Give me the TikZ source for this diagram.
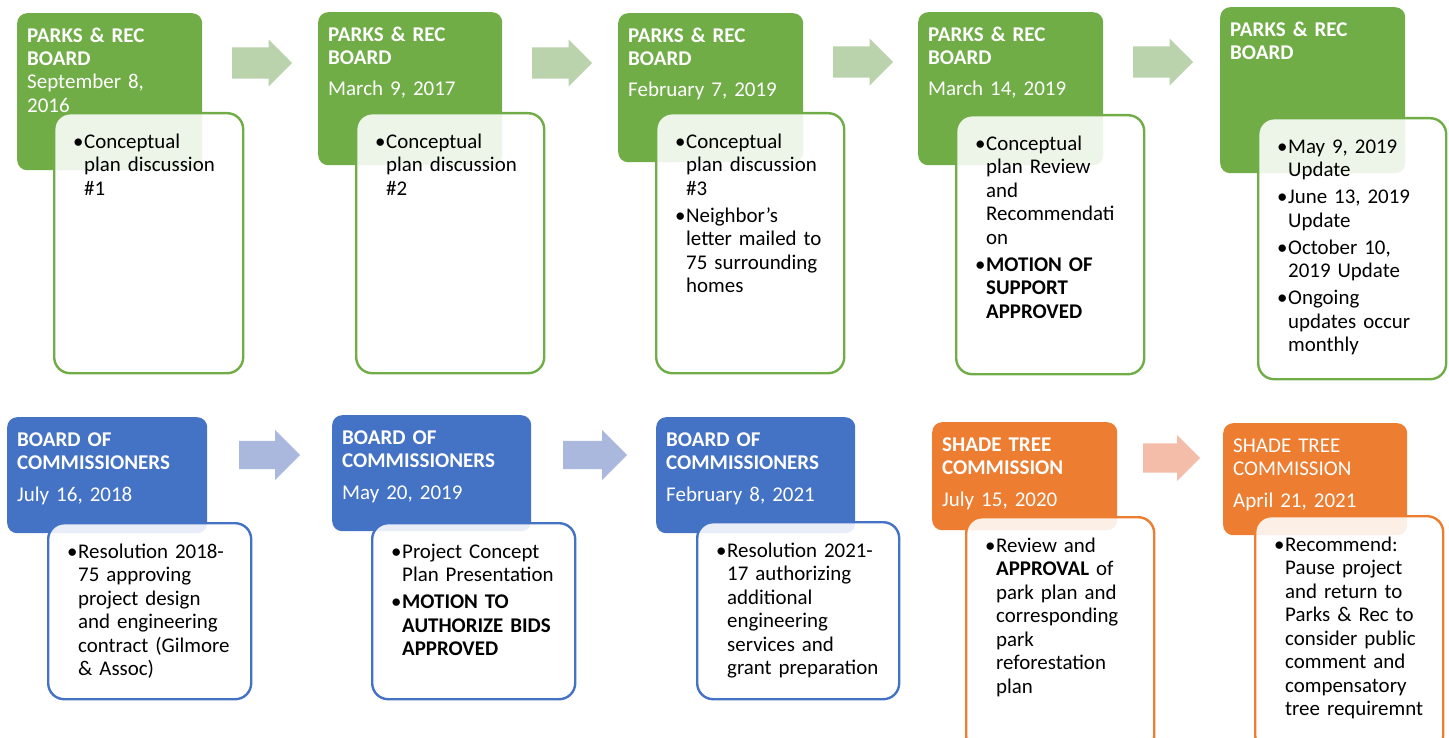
\documentclass[tikz,border=0pt]{standalone}
\usepackage{fontspec}
\setmainfont{Carlito}
\usetikzlibrary{shapes.arrows}

\definecolor{prgreen}{RGB}{112,173,71}
\definecolor{bcblue}{RGB}{68,114,196}
\definecolor{storange}{RGB}{237,125,49}
\definecolor{prarrow}{RGB}{186,211,173}
\definecolor{bcarrow}{RGB}{170,184,222}
\definecolor{starrow}{RGB}{244,189,170}

\newcommand{\hdfont}{\fontsize{21}{23.3}\selectfont}
\newcommand{\dtfont}{\fontsize{20.9}{23.5}\selectfont}
\newcommand{\bul}[1]{\makebox[11pt][l]{\textbullet}\parbox[t]{\dimexpr\linewidth-11pt\relax}{\strut#1\strut}}

\begin{document}
\begin{tikzpicture}[x = 1pt, y = -1pt,
		hd/.style = {fill=#1, text=white, rounded corners=10pt, anchor=north west, align=left,
			inner xsep=10pt, inner ysep=14pt, text height=15pt, font=\hdfont},
		dt/.style = {draw=#1, line width=2.4pt, fill=white, fill opacity=.88, text opacity=1,
			rounded corners=16pt, anchor=north west, align=left, inner xsep=19pt, inner ysep=20pt,
			text height=15pt, font=\dtfont, execute at begin node={\setlength{\parskip}{2.5pt}}},
		blk/.style = {single arrow, fill=#1, anchor=tail, inner xsep=0pt, inner ysep=15.5pt, single arrow head extend=8pt,
			single arrow head indent=0pt, minimum height=60pt, minimum width=47pt}]
	\useasboundingbox (0,0) rectangle (1449,738);
	\clip (0,0) rectangle (1449,738);
	% top row: parks & rec board
	\node[hd=prgreen, text width=165pt, text depth=114pt] (pr1) at (17,13) {\textbf{PARKS \& REC\newline BOARD}\newline September 8,\newline 2016};
	\node[dt=prgreen, text width=151pt, text depth=205pt] (pr1d) at (53,112) {\bul{Conceptual\newline plan discussion\newline \#1}};
	\node[blk=prarrow] (pr12) at (232,63) {};
	\node[hd=prgreen, text width=164pt, text depth=110pt] (pr2) at (318,12) {\textbf{PARKS \& REC\newline BOARD}\par\vspace{8pt}March 9, 2017};
	\node[dt=prgreen, text width=150pt, text depth=205pt] (pr2d) at (355,112) {\bul{Conceptual\newline plan discussion\newline \#2}};
	\node[blk=prarrow] (pr23) at (532,63) {};
	\node[hd=prgreen, text width=165pt, text depth=106pt] (pr3) at (618,13) {\textbf{PARKS \& REC\newline BOARD}\par\vspace{8pt}February 7, 2019};
	\node[dt=prgreen, text width=150pt, text depth=205pt] (pr3d) at (655,112) {\bul{Conceptual\newline plan discussion\newline \#3}\par
		\bul{Neighbor's\newline letter mailed to\newline 75 surrounding\newline homes}};
	\node[blk=prarrow] (pr34) at (833,62) {};
	\node[hd=prgreen, text width=165pt, text depth=110pt] (pr4) at (918,12) {\textbf{PARKS \& REC\newline BOARD}\par\vspace{8pt}March 14, 2019};
	\node[dt=prgreen, text width=150pt, text depth=204pt] (pr4d) at (955,114) {\bul{Conceptual\newline plan Review\newline and\newline Recommendati\newline on}\par
		\bul{\textbf{MOTION OF\newline SUPPORT\newline APPROVED}}};
	\node[blk=prarrow] (pr45) at (1133,62) {};
	\node[hd=prgreen, text width=165pt, text depth=123pt] (pr5) at (1220,7) {\textbf{PARKS \& REC\newline BOARD}};
	\node[dt=prgreen, text width=150pt, text depth=206pt] (pr5d) at (1257,117) {\bul{May 9, 2019\newline Update}\par
		\bul{June 13, 2019\newline Update}\par
		\bul{October 10,\newline 2019 Update}\par
		\bul{Ongoing\newline updates occur\newline monthly}};
	% bottom row: board of commissioners
	\node[hd=bcblue, text width=180pt, text depth=73pt] (bc1) at (7,417) {\textbf{BOARD OF\newline COMMISSIONERS}\par\vspace{9pt}July 16, 2018};
	\node[dt=bcblue, text width=165pt, text depth=121pt] (bc1d) at (47,522) {\bul{Resolution 2018-\newline 75 approving\newline project design\newline and engineering\newline contract (Gilmore\newline \& Assoc)}};
	\node[blk=bcarrow, inner ysep=14pt, minimum height=61pt, minimum width=50pt, single arrow head extend=11pt] (bc12) at (239,455) {};
	\node[hd=bcblue, text width=179pt, text depth=73pt] (bc2) at (332,415) {\textbf{BOARD OF\newline COMMISSIONERS}\par\vspace{9pt}May 20, 2019};
	\node[dt=bcblue, text width=165pt, text depth=121pt] (bc2d) at (371,522) {\bul{Project Concept\newline Plan Presentation}\par
		\bul{\textbf{MOTION TO\newline AUTHORIZE BIDS\newline APPROVED}}};
	\node[blk=bcarrow, inner ysep=14pt, minimum height=64pt, minimum width=50pt, single arrow head extend=11pt] (bc23) at (563,455) {};
	\node[hd=bcblue, text width=179pt, text depth=73pt] (bc3) at (656,417) {\textbf{BOARD OF\newline COMMISSIONERS}\par\vspace{9pt}February 8, 2021};
	\node[dt=bcblue, text width=164pt, text depth=122pt] (bc3d) at (696,521) {\bul{Resolution 2021-\newline 17 authorizing\newline additional\newline engineering\newline services and\newline grant preparation}};
	% bottom row: shade tree commission
	\node[hd=storange, text width=165pt, text depth=65pt] (st1) at (932,422) {\textbf{SHADE TREE\newline COMMISSION}\par\vspace{9pt}July 15, 2020};
	\node[dt=storange, text width=150pt, text depth=180pt] (st1d) at (965,516) {\bul{Review and\newline \textbf{APPROVAL} of\newline park plan and\newline corresponding\newline park\newline reforestation\newline plan}};
	\node[blk=starrow, inner ysep=14.5pt, minimum height=57pt, minimum width=46pt, single arrow head extend=8.5pt] (st12) at (1143,458) {};
	\node[hd=storange, text width=164pt, text depth=69pt] (st2) at (1223,423) {SHADE TREE\newline COMMISSION\par\vspace{9pt}April 21, 2021};
	\node[dt=storange, text width=150pt, text depth=180pt] (st2d) at (1254,515) {\bul{Recommend:\newline Pause project\newline and return to\newline Parks \& Rec to\newline consider public\newline comment and\newline compensatory\newline tree requiremnt}};
\end{tikzpicture}
\end{document}
